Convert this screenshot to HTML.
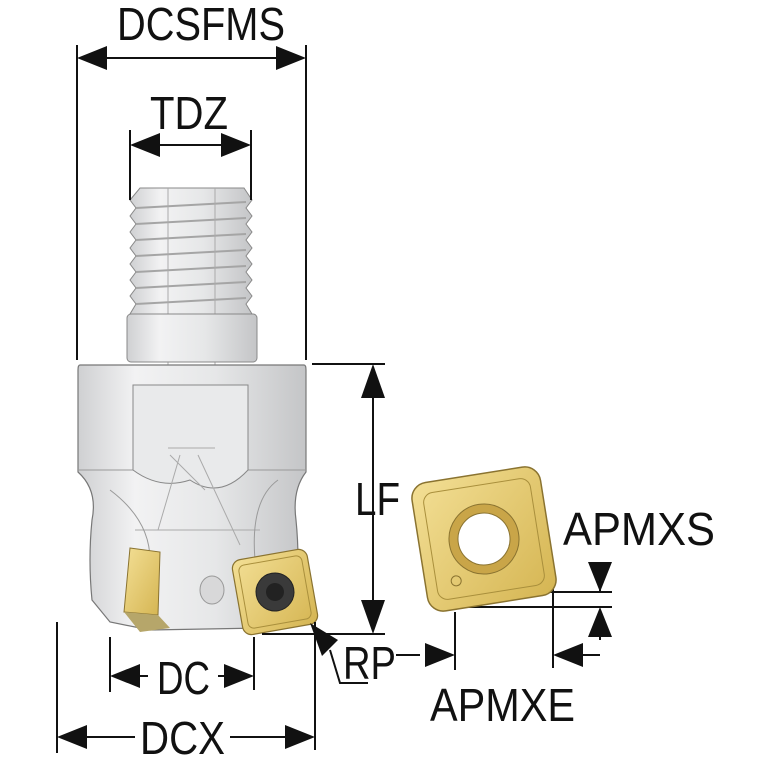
<!DOCTYPE html>
<html><head><meta charset="utf-8"><style>
html,body{margin:0;padding:0;background:#fff;width:767px;height:767px;overflow:hidden}
svg{display:block}
text{font-family:"Liberation Sans Narrow","Liberation Sans",sans-serif;fill:#111}
</style></head><body>
<svg width="767" height="767" viewBox="0 0 767 767" xmlns="http://www.w3.org/2000/svg">
<defs>
<linearGradient id="metal" x1="0" x2="1" y1="0" y2="0">
<stop offset="0" stop-color="#cfd0d2"/><stop offset="0.25" stop-color="#f2f2f3"/><stop offset="0.6" stop-color="#e6e7e8"/><stop offset="1" stop-color="#c4c5c7"/>
</linearGradient>
<linearGradient id="gold" x1="0" x2="1" y1="0" y2="1">
<stop offset="0" stop-color="#f3df95"/><stop offset="1" stop-color="#d5b552"/>
</linearGradient>
</defs>

<!-- shank threads -->
<path d="M140 188 H244 L252 200 L246 208 L252 216 L246 224 L252 232 L246 240 L252 248 L246 256 L252 264 L246 272 L252 280 L246 288 L252 296 L246 304 L252 314 H130 L136 304 L130 296 L136 288 L130 280 L136 272 L130 264 L136 256 L130 248 L136 240 L130 232 L136 224 L130 216 L136 208 L130 200 Z" fill="url(#metal)" stroke="#888" stroke-width="1"/>
<g stroke="#a5a5a5" stroke-width="2" fill="none">
<path d="M136 208 L246 202 M136 224 L246 218 M136 240 L246 234 M136 256 L246 250 M136 272 L246 266 M136 288 L246 282 M136 304 L246 298"/>
</g>
<g stroke="#aaa" stroke-width="1" fill="none"><path d="M168 188 V560 M215 188 V560"/></g>
<!-- neck -->
<rect x="127" y="314" width="130" height="48" rx="4" fill="url(#metal)" stroke="#888"/>
<!-- body -->
<path d="M80 365 H304 Q306 365 306 370 V472 Q292 490 296 520 Q300 560 296 600 L262 628 L150 630 L110 622 L92 600 Q88 560 92 520 Q98 490 78 472 V370 Q78 365 80 365 Z" fill="url(#metal)" stroke="#777" stroke-width="1.2"/>
<path d="M78 470 H306" stroke="#999" fill="none"/>
<path d="M133 385 H248 V470 Q220 500 190 480 Q160 490 133 470 Z" fill="#e9eaeb" stroke="#888"/>
<path d="M168 448 H215 M170 455 L205 490 M180 455 L158 530 M198 455 L240 545 M135 530 H260" stroke="#aaa" fill="none"/>
<path d="M110 490 Q150 520 150 560 L150 600 M278 480 Q250 500 255 560" stroke="#999" fill="none"/>
<ellipse cx="212" cy="590" rx="12" ry="14" fill="#d8d8d9" stroke="#999"/>
<!-- left insert -->
<path d="M130 548 L160 552 L158 615 L124 612 Z" fill="url(#gold)" stroke="#8a7330"/>
<path d="M124 612 L158 615 L170 628 L140 632 Z" fill="#b6a66a"/>
<!-- right insert on tool -->
<g transform="rotate(-10 275 592)">
<rect x="237" y="554" width="76" height="76" rx="9" fill="url(#gold)" stroke="#8a7330" stroke-width="1.2"/>
<rect x="243" y="560" width="64" height="64" rx="6" fill="none" stroke="#a98f3c"/>
<circle cx="275" cy="592" r="19" fill="#3a3a3a" stroke="#222"/>
<circle cx="275" cy="592" r="9" fill="#222"/>
</g>

<g stroke="#111" stroke-width="2" fill="none">
<path d="M77 45 V360 M306 45 V360"/>
<path d="M100 58 H284"/>
<path d="M130 130 V200 M251 130 V200"/>
<path d="M152 145 H230"/>
<path d="M312 364 H385 M262 634 H385"/>
<path d="M373 390 V608"/>
<path d="M110 637 V692 M254 637 V690 M57 622 V753 M315 622 V750"/>
<path d="M130 676 H148 M218 676 H235"/>
<path d="M80 737 H135 M230 737 H292"/>
<path d="M330 650 L340 683 H368"/>
<path d="M396 655 H420"/>
<path d="M455 612 V670 M553 583 V668 M578 655 H600"/>
<path d="M545 592 H612 M458 607 H612 M600 576 V592 M600 620 V640"/>
</g>
<g fill="#111">
<polygon points="77,58 107,46 107,70"/><polygon points="306,58 276,46 276,70"/>
<polygon points="130,145 160,133 160,157"/><polygon points="251,145 221,133 221,157"/>
<polygon points="373,364 361,398 385,398"/><polygon points="373,634 361,600 385,600"/>
<polygon points="110,676 140,664 140,688"/><polygon points="254,676 224,664 224,688"/>
<polygon points="57,737 87,725 87,749"/><polygon points="315,737 285,725 285,749"/>
<polygon points="310,623 338,640 322,656"/>
<polygon points="455,655 425,643 425,667"/>
<polygon points="553,655 583,643 583,667"/>
<polygon points="600,592 588,562 612,562"/>
<polygon points="600,607 588,637 612,637"/>
</g>

<!-- right insert -->
<g transform="rotate(-9 484 539)">
<rect x="419" y="474" width="130" height="130" rx="16" fill="url(#gold)" stroke="#8a7330" stroke-width="1.5"/>
<rect x="430" y="485" width="108" height="108" rx="10" fill="none" stroke="#a98f3c"/>
<circle cx="484" cy="539" r="35" fill="#c9a548" stroke="#8a7330"/>
<circle cx="484" cy="539" r="26" fill="#fff" stroke="#8a7330"/>
<circle cx="450" cy="576" r="5" fill="none" stroke="#8a7330"/>
</g>

<text x="117" y="40" font-size="46" textLength="168" lengthAdjust="spacingAndGlyphs">DCSFMS</text>
<text x="150" y="129" font-size="46" textLength="78" lengthAdjust="spacingAndGlyphs">TDZ</text>
<text x="355" y="515" font-size="46" textLength="45" lengthAdjust="spacingAndGlyphs">LF</text>
<text x="157" y="694" font-size="46" textLength="53" lengthAdjust="spacingAndGlyphs">DC</text>
<text x="140" y="754" font-size="46" textLength="85" lengthAdjust="spacingAndGlyphs">DCX</text>
<text x="343" y="679" font-size="46" textLength="53" lengthAdjust="spacingAndGlyphs">RP</text>
<text x="563" y="545" font-size="46" textLength="152" lengthAdjust="spacingAndGlyphs">APMXS</text>
<text x="430" y="721" font-size="46" textLength="145" lengthAdjust="spacingAndGlyphs">APMXE</text>
</svg>
</body></html>
